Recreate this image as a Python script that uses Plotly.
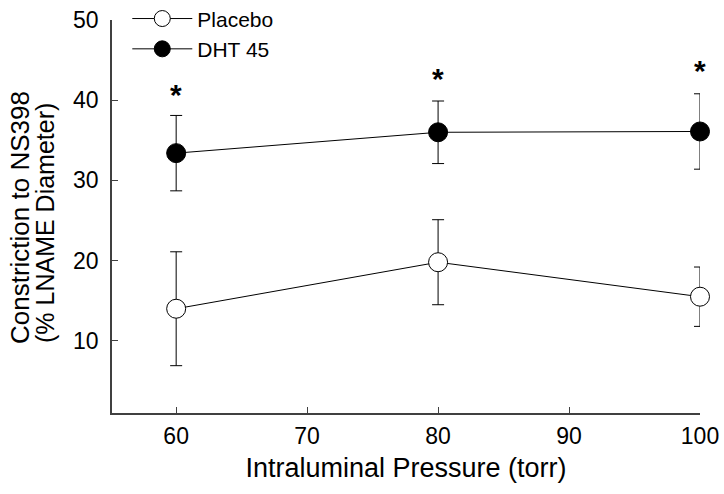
import plotly.graph_objects as go

pressure = [60, 80, 100]
placebo_mean = [14.0, 19.8, 15.5]
placebo_err = [7.1, 5.3, 3.7]
dht_mean = [33.4, 36.0, 36.1]
dht_err = [4.7, 3.9, 4.7]
star_y = [40.65, 42.65, 43.75]

x_ticks = [60, 70, 80, 90, 100]
y_ticks = [10, 20, 30, 40, 50]

FONT = "Liberation Sans, Arial, sans-serif"
AX = "#404040"

fig = go.Figure()
fig.add_trace(go.Scatter(
    x=pressure, y=placebo_mean, name="Placebo", mode="lines+markers",
    line=dict(color="black", width=1), cliponaxis=False,
    marker=dict(size=19, color="white", line=dict(color="black", width=1)),
    error_y=dict(type="data", array=placebo_err, color="black", thickness=1, width=6),
))
fig.add_trace(go.Scatter(
    x=pressure, y=dht_mean, name="DHT 45", mode="lines+markers",
    line=dict(color="black", width=1), cliponaxis=False,
    marker=dict(size=19, color="black", line=dict(color="black", width=1)),
    error_y=dict(type="data", array=dht_err, color="black", thickness=1, width=6),
))

for xv, yv in zip(pressure, star_y):
    fig.add_annotation(x=xv, y=yv, text="<b>*</b>", showarrow=False,
                       font=dict(size=30, color="black", family=FONT),
                       xanchor="center", yanchor="middle")

# y-axis title as two rotated lines
PLOT_W = 588
PLOT_H = 393
fig.add_annotation(text="Constriction to NS398", textangle=-90, showarrow=False,
                   xref="paper", yref="paper", x=(20 - 112) / PLOT_W, y=(413 - 218) / PLOT_H,
                   xanchor="center", yanchor="middle", font=dict(size=26, family=FONT))
fig.add_annotation(text="(% LNAME Diameter)", textangle=-90, showarrow=False,
                   xref="paper", yref="paper", x=(45 - 112) / PLOT_W, y=(413 - 223) / PLOT_H,
                   xanchor="center", yanchor="middle", font=dict(size=25, family=FONT))

fig.update_layout(
    width=724, height=494,
    margin=dict(l=112, r=24, t=20, b=81, autoexpand=False),
    paper_bgcolor="white", plot_bgcolor="white",
    font=dict(family=FONT, color="black", size=22),
    showlegend=True,
    legend=dict(x=0.026, y=1.055, xanchor="left", yanchor="top",
                font=dict(size=21, family=FONT), itemwidth=60,
                bgcolor="rgba(0,0,0,0)", tracegroupgap=0),
)
fig.update_xaxes(
    range=[55.1, 100], tickvals=x_ticks, ticks="inside", ticklen=6,
    tickcolor=AX, showline=True, linecolor=AX, linewidth=1.5, showgrid=False,
    zeroline=False, tickfont=dict(size=23), ticklabelstandoff=2,
    ticklabeloverflow="allow",
    title=dict(text="Intraluminal Pressure (torr)", font=dict(size=27), standoff=10),
)
fig.update_yaxes(
    range=[1, 50], tickvals=y_ticks, ticks="inside", ticklen=6,
    tickcolor=AX, showline=True, linecolor=AX, linewidth=1.5, showgrid=False,
    zeroline=False, tickfont=dict(size=23), ticklabelstandoff=7,
    ticklabeloverflow="allow",
)

fig.write_html("out.html", config={"displayModeBar": False},
               post_script="document.body.style.margin='0';document.body.style.overflow='hidden';")
